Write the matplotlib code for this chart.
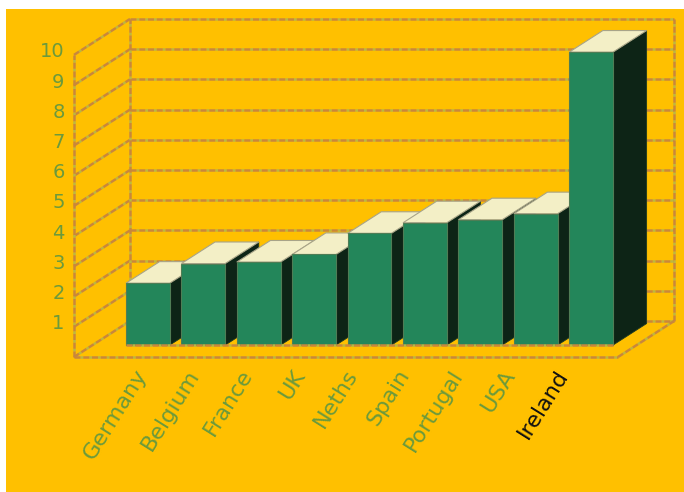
import numpy as np
import matplotlib.pyplot as plt
from matplotlib.patches import Polygon

countries = ["Germany", "Belgium", "France", "UK", "Neths", "Spain", "Portugal", "USA", "Ireland"]
values = [2.05, 2.7, 2.75, 3.0, 3.7, 4.05, 4.15, 4.35, 9.7]
yticks = list(range(1, 11))
label_colors = ["#6b9a3c"] * 8 + ["#111111"]

BG = "#ffc000"
FRONT = "#23865a"
SIDE = "#0d2416"
TOP = "#f3efc6"
GRID = "#c8873c"
GRID_GAP = "#bab742"
TEXT_GREEN = "#6b9a3c"

# oblique projection, depth z runs 0 (front) .. 1 (back wall)
DX, DY = 1.011, 1.19
FLOOR_W = 9.82
Z0, Z1 = 0.33, 0.93
BAR_X0, BAR_W = 0.605, 0.79


def proj(x, y, z):
    return x + z * DX, y + z * DY


fig = plt.figure(figsize=(6.84, 4.92), dpi=100, facecolor="white")
ax = fig.add_axes([6 / 684, 0, 678 / 684, 483 / 492])
ax.set_facecolor(BG)
ax.set_xlim(-1.227, 11.01)
ax.set_ylim(-4.47, 11.52)
ax.set_xticks([])
ax.set_yticks([])
for s in ax.spines.values():
    s.set_visible(False)


def gline(p, q, z=1):
    xs, ys = zip(proj(*p), proj(*q))
    ax.plot(xs, ys, color=GRID, gapcolor=GRID_GAP, lw=1.8,
            ls=(0, (2.4, 1.1)), solid_capstyle="butt", zorder=z)


# walls and floor
top = yticks[-1]
for v in [0] + yticks:
    gline((0, v, 1), (FLOOR_W, v, 1))
    gline((0, v, 0), (0, v, 1))
gline((0, 0, 0), (0, top, 0))
gline((0, 0, 1), (0, top, 1))
gline((FLOOR_W, 0, 1), (FLOOR_W, top, 1))
gline((0, 0, 0), (FLOOR_W, 0, 0))
gline((FLOOR_W, 0, 0), (FLOOR_W, 0, 1))

# bars, left to right so each one hides the previous side face
for i, v in enumerate(values):
    x0 = BAR_X0 + i
    x1 = x0 + BAR_W
    side = [proj(x1, 0, Z0), proj(x1, v, Z0), proj(x1, v, Z1), proj(x1, 0, Z1)]
    topf = [proj(x0, v, Z0), proj(x1, v, Z0), proj(x1, v, Z1), proj(x0, v, Z1)]
    front = [proj(x0, 0, Z0), proj(x1, 0, Z0), proj(x1, v, Z0), proj(x0, v, Z0)]
    ax.add_patch(Polygon(side, closed=True, fc=SIDE, ec="#1d3a22", lw=0.6, zorder=3))
    ax.add_patch(Polygon(topf, closed=True, fc=TOP, ec="#a8a488", lw=0.8, zorder=3))
    ax.add_patch(Polygon(front, closed=True, fc=FRONT, ec="#4f7d55", lw=0.8, zorder=3))

# bar base line
gline((BAR_X0, 0, Z0), (BAR_X0 + len(values) - 1 + BAR_W, 0, Z0), z=4)

# value labels on the front axis
for v in yticks:
    ax.text(-0.17, v + 0.1, str(v), ha="right", va="center",
            fontsize=14, color=TEXT_GREEN, zorder=5)

# category labels
for i, (name, c) in enumerate(zip(countries, label_colors)):
    ax.text(1.08 + 0.95 * i, -0.3, name, rotation=58, rotation_mode="anchor",
            ha="right", va="top", fontsize=16, color=c, zorder=5)

fig.savefig("out.png", dpi=100, facecolor="white")
